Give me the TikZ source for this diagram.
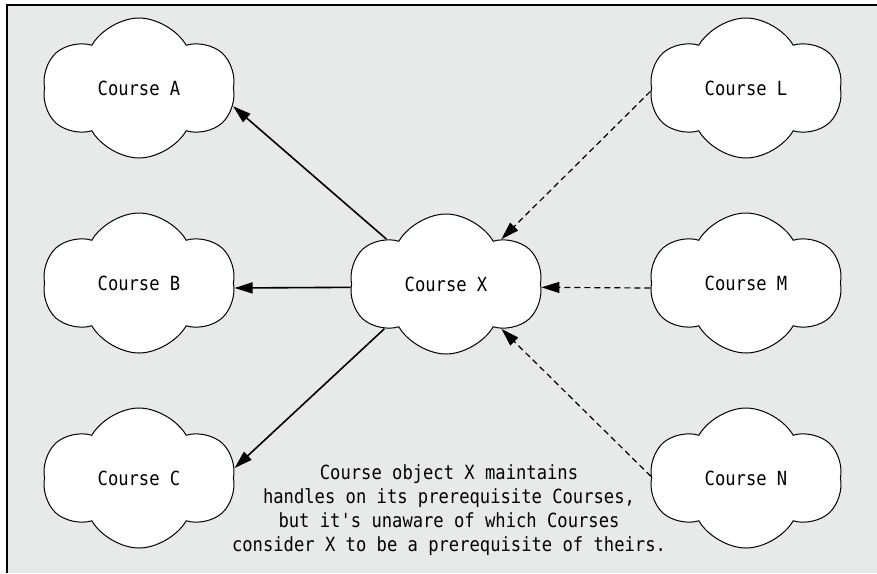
\documentclass[tikz,border=0pt]{standalone}
\usepackage{fontspec}
\setmonofont[FakeStretch=0.88]{DejaVu Sans Mono}
\usepackage{tikz}
\usetikzlibrary{arrows.meta,positioning,shapes.symbols}
\definecolor{paper}{HTML}{E8E9E9}
\begin{document}
\begin{tikzpicture}[x=1pt, y=-1pt, node distance=54pt and 110pt, every node/.style={font=\ttfamily\fontsize{19.5}{24}\selectfont}, course/.style={draw, fill=white, line width=1pt, shape=cloud, cloud puffs=6, cloud puff arc=120, cloud ignores aspect, minimum width=192pt, minimum height=140pt, inner sep=0pt}, uses/.style={line width=1.6pt, -{Triangle[length=18pt, width=11pt]}}, usedby/.style={line width=1.2pt, dash pattern=on 6pt off 4pt, -{Triangle[length=18pt, width=11pt]}}]
\useasboundingbox (0,0) rectangle (877,573);
\fill[paper] (7,5) rectangle (877,573);
\draw[line width=1.5pt] (7,573) -- (7,5) -- (877,5);
\node[course] (X) at (446,284) {Course X};
\node[course] (B) at (139,283) {Course B};
\node[course, above=of B] (A) {Course A};
\node[course, below=of B] (C) {Course C};
\node[course] (M) at (746,283) {Course M};
\node[course, above=of M] (L) {Course L};
\node[course, below=of M] (N) {Course N};
\node[align=center] (note) at (449,510) {Course object X maintains\\handles on its prerequisite Courses,\\but it's unaware of which Courses\\consider X to be a prerequisite of theirs.};
\draw[uses] (X.143) -- (A.-11);
\draw[uses] (X.182) -- (B.-3);
\draw[uses] (X.216) -- (C.6);
\draw[usedby] (L.182) -- (X.39);
\draw[usedby] (M.183) -- (X.-2);
\draw[usedby] (N.179) -- (X.-39);
\end{tikzpicture}
\end{document}
